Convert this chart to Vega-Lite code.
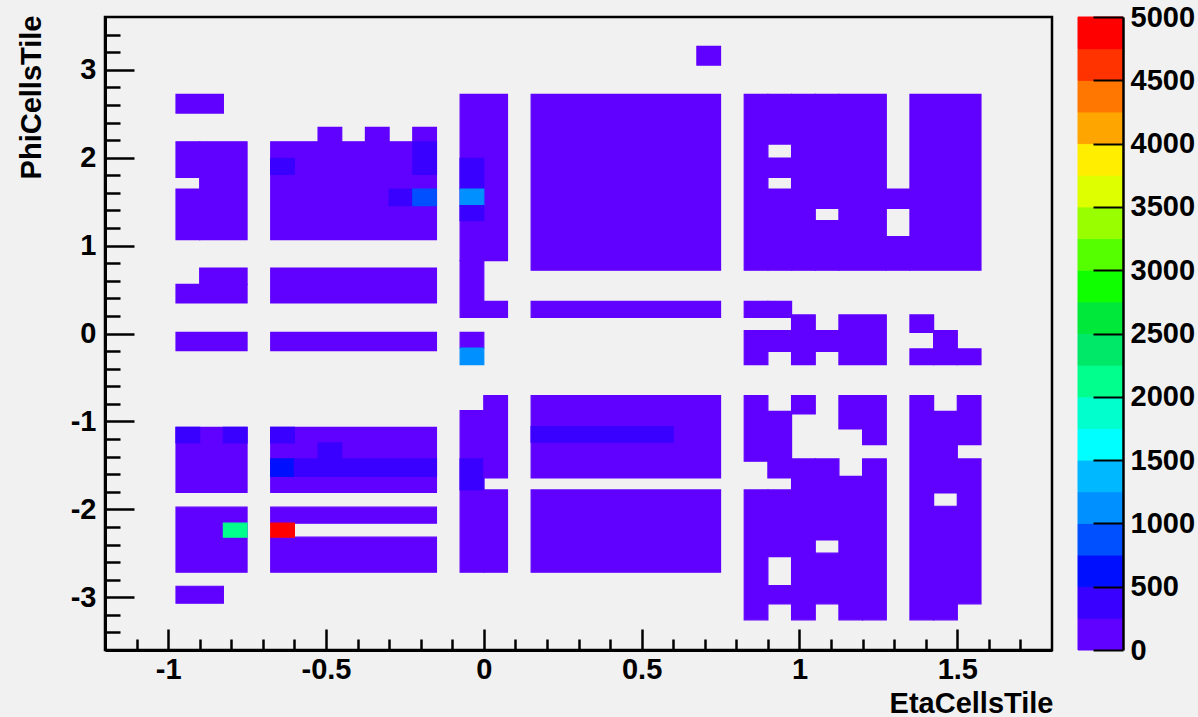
{
  "$schema": "https://vega.github.io/schema/vega-lite/v6.json",
  "autosize": {"type": "none"},
  "padding": {"left": 105, "top": 17, "right": 1093, "bottom": 700},
  "background": "#f1f1f1",
  "bounds": "flush",
  "spacing": 26,
  "config": {
    "view": {"stroke": "#000000", "strokeWidth": 2.5},
    "axis": {
      "grid": false,
      "domainColor": "#000000",
      "domainWidth": 3,
      "tickColor": "#000000",
      "tickWidth": 2.5,
      "labelFont": "Liberation Sans",
      "labelFontWeight": "bold",
      "labelFontSize": 29,
      "labelColor": "#000000",
      "labelFlush": false,
      "labelOverlap": false,
      "titleFont": "Liberation Sans",
      "titleFontWeight": "bold",
      "titleFontSize": 29,
      "titleColor": "#000000"
    }
  },
  "hconcat": [
    {
      "width": 947,
      "height": 633,
      "data": {
        "values": [
          {"eta1": -0.975, "eta2": -0.825, "phi1": 2.507, "phi2": 2.72, "count": 120},
          {"eta1": -0.9, "eta2": -0.75, "phi1": 1.067, "phi2": 2.181, "count": 120},
          {"eta1": -0.975, "eta2": -0.9, "phi1": 1.776, "phi2": 2.181, "count": 120},
          {"eta1": -0.975, "eta2": -0.9, "phi1": 1.067, "phi2": 1.643, "count": 120},
          {"eta1": -0.675, "eta2": -0.15, "phi1": 1.067, "phi2": 2.181, "count": 120},
          {"eta1": -0.525, "eta2": -0.45, "phi1": 2.181, "phi2": 2.344, "count": 120},
          {"eta1": -0.375, "eta2": -0.3, "phi1": 2.181, "phi2": 2.344, "count": 120},
          {"eta1": -0.225, "eta2": -0.15, "phi1": 2.181, "phi2": 2.344, "count": 120},
          {"eta1": -0.675, "eta2": -0.6, "phi1": 1.81, "phi2": 1.992, "count": 380},
          {"eta1": -0.225, "eta2": -0.15, "phi1": 1.81, "phi2": 2.181, "count": 380},
          {"eta1": -0.3, "eta2": -0.225, "phi1": 1.454, "phi2": 1.643, "count": 420},
          {"eta1": -0.225, "eta2": -0.15, "phi1": 1.454, "phi2": 1.643, "count": 900},
          {"eta1": -0.075, "eta2": 0.075, "phi1": 0.828, "phi2": 2.72, "count": 120},
          {"eta1": -0.075, "eta2": 0, "phi1": 0.184, "phi2": 0.828, "count": 120},
          {"eta1": 0, "eta2": 0.075, "phi1": 0.184, "phi2": 0.366, "count": 120},
          {"eta1": -0.075, "eta2": 0, "phi1": 1.643, "phi2": 1.992, "count": 380},
          {"eta1": -0.075, "eta2": 0, "phi1": 1.454, "phi2": 1.643, "count": 1150},
          {"eta1": -0.075, "eta2": 0, "phi1": 1.283, "phi2": 1.454, "count": 400},
          {"eta1": 0.15, "eta2": 0.75, "phi1": 0.72, "phi2": 2.72, "count": 120},
          {"eta1": 0.15, "eta2": 0.75, "phi1": 0.184, "phi2": 0.366, "count": 120},
          {"eta1": 0.675, "eta2": 0.75, "phi1": 3.053, "phi2": 3.266, "count": 120},
          {"eta1": -0.975, "eta2": -0.75, "phi1": 0.347, "phi2": 0.559, "count": 120},
          {"eta1": -0.9, "eta2": -0.75, "phi1": 0.559, "phi2": 0.745, "count": 120},
          {"eta1": -0.675, "eta2": -0.15, "phi1": 0.347, "phi2": 0.745, "count": 120},
          {"eta1": 0.825, "eta2": 0.9, "phi1": 0.72, "phi2": 2.72, "count": 120},
          {"eta1": 0.9, "eta2": 0.975, "phi1": 0.72, "phi2": 1.643, "count": 120},
          {"eta1": 0.9, "eta2": 0.975, "phi1": 1.776, "phi2": 1.996, "count": 120},
          {"eta1": 0.9, "eta2": 0.975, "phi1": 2.155, "phi2": 2.72, "count": 120},
          {"eta1": 0.975, "eta2": 1.05, "phi1": 0.72, "phi2": 2.72, "count": 120},
          {"eta1": 1.05, "eta2": 1.125, "phi1": 0.72, "phi2": 1.283, "count": 120},
          {"eta1": 1.05, "eta2": 1.125, "phi1": 1.423, "phi2": 2.72, "count": 120},
          {"eta1": 1.125, "eta2": 1.275, "phi1": 0.72, "phi2": 2.72, "count": 120},
          {"eta1": 1.275, "eta2": 1.35, "phi1": 0.72, "phi2": 1.101, "count": 120},
          {"eta1": 1.275, "eta2": 1.35, "phi1": 1.423, "phi2": 1.643, "count": 120},
          {"eta1": 1.35, "eta2": 1.575, "phi1": 0.72, "phi2": 2.72, "count": 120},
          {"eta1": 0.825, "eta2": 0.9, "phi1": 0.184, "phi2": 0.366, "count": 120},
          {"eta1": 0.825, "eta2": 0.9, "phi1": -0.353, "phi2": 0.032, "count": 120},
          {"eta1": 0.9, "eta2": 0.975, "phi1": 0.184, "phi2": 0.366, "count": 120},
          {"eta1": 0.9, "eta2": 0.975, "phi1": -0.203, "phi2": 0.032, "count": 120},
          {"eta1": 0.975, "eta2": 1.05, "phi1": -0.353, "phi2": 0.211, "count": 120},
          {"eta1": 1.05, "eta2": 1.125, "phi1": -0.203, "phi2": 0.032, "count": 120},
          {"eta1": 1.125, "eta2": 1.275, "phi1": -0.353, "phi2": 0.211, "count": 120},
          {"eta1": 1.35, "eta2": 1.425, "phi1": 0.013, "phi2": 0.211, "count": 120},
          {"eta1": 1.35, "eta2": 1.425, "phi1": -0.353, "phi2": -0.176, "count": 120},
          {"eta1": 1.425, "eta2": 1.5, "phi1": -0.353, "phi2": 0.032, "count": 120},
          {"eta1": 1.5, "eta2": 1.575, "phi1": -0.353, "phi2": -0.176, "count": 120},
          {"eta1": -0.975, "eta2": -0.75, "phi1": -0.195, "phi2": 0.013, "count": 120},
          {"eta1": -0.675, "eta2": -0.15, "phi1": -0.195, "phi2": 0.013, "count": 120},
          {"eta1": -0.075, "eta2": 0, "phi1": -0.165, "phi2": 0.013, "count": 120},
          {"eta1": -0.075, "eta2": 0, "phi1": -0.354, "phi2": -0.165, "count": 1150},
          {"eta1": -0.975, "eta2": -0.75, "phi1": -1.806, "phi2": -1.067, "count": 120},
          {"eta1": -0.975, "eta2": -0.9, "phi1": -1.245, "phi2": -1.067, "count": 380},
          {"eta1": -0.825, "eta2": -0.75, "phi1": -1.245, "phi2": -1.067, "count": 380},
          {"eta1": -0.675, "eta2": -0.15, "phi1": -1.806, "phi2": -1.067, "count": 120},
          {"eta1": -0.675, "eta2": -0.6, "phi1": -1.245, "phi2": -1.067, "count": 380},
          {"eta1": -0.525, "eta2": -0.45, "phi1": -1.427, "phi2": -1.245, "count": 380},
          {"eta1": -0.675, "eta2": -0.6, "phi1": -1.624, "phi2": -1.427, "count": 620},
          {"eta1": -0.6, "eta2": -0.15, "phi1": -1.624, "phi2": -1.427, "count": 380},
          {"eta1": -0.975, "eta2": -0.75, "phi1": -2.715, "phi2": -1.976, "count": 120},
          {"eta1": -0.825, "eta2": -0.75, "phi1": -2.317, "phi2": -2.158, "count": 2150},
          {"eta1": -0.675, "eta2": -0.15, "phi1": -2.158, "phi2": -1.976, "count": 120},
          {"eta1": -0.675, "eta2": -0.15, "phi1": -2.715, "phi2": -2.317, "count": 120},
          {"eta1": -0.675, "eta2": -0.6, "phi1": -2.317, "phi2": -2.158, "count": 4900},
          {"eta1": -0.975, "eta2": -0.825, "phi1": -3.068, "phi2": -2.875, "count": 120},
          {"eta1": -0.075, "eta2": 0, "phi1": -2.715, "phi2": -0.877, "count": 120},
          {"eta1": -0.075, "eta2": 0, "phi1": -1.779, "phi2": -1.427, "count": 380},
          {"eta1": 0, "eta2": 0.075, "phi1": -1.643, "phi2": -0.706, "count": 120},
          {"eta1": 0, "eta2": 0.075, "phi1": -2.715, "phi2": -1.779, "count": 120},
          {"eta1": 0.15, "eta2": 0.75, "phi1": -1.643, "phi2": -0.706, "count": 120},
          {"eta1": 0.15, "eta2": 0.6, "phi1": -1.237, "phi2": -1.059, "count": 380},
          {"eta1": 0.15, "eta2": 0.75, "phi1": -2.715, "phi2": -1.779, "count": 120},
          {"eta1": 0.825, "eta2": 0.9, "phi1": -1.453, "phi2": -0.706, "count": 120},
          {"eta1": 0.825, "eta2": 0.9, "phi1": -3.257, "phi2": -1.779, "count": 120},
          {"eta1": 0.9, "eta2": 0.975, "phi1": -1.643, "phi2": -0.885, "count": 120},
          {"eta1": 0.9, "eta2": 0.975, "phi1": -2.537, "phi2": -1.779, "count": 120},
          {"eta1": 0.9, "eta2": 0.975, "phi1": -3.075, "phi2": -2.867, "count": 120},
          {"eta1": 0.975, "eta2": 1.05, "phi1": -0.915, "phi2": -0.706, "count": 120},
          {"eta1": 0.975, "eta2": 1.05, "phi1": -3.257, "phi2": -1.427, "count": 120},
          {"eta1": 1.05, "eta2": 1.125, "phi1": -2.348, "phi2": -1.427, "count": 120},
          {"eta1": 1.05, "eta2": 1.125, "phi1": -3.075, "phi2": -2.499, "count": 120},
          {"eta1": 1.125, "eta2": 1.2, "phi1": -1.086, "phi2": -0.706, "count": 120},
          {"eta1": 1.125, "eta2": 1.2, "phi1": -3.257, "phi2": -1.624, "count": 120},
          {"eta1": 1.2, "eta2": 1.275, "phi1": -1.264, "phi2": -0.706, "count": 120},
          {"eta1": 1.2, "eta2": 1.275, "phi1": -3.257, "phi2": -1.427, "count": 120},
          {"eta1": 1.35, "eta2": 1.425, "phi1": -3.257, "phi2": -0.706, "count": 120},
          {"eta1": 1.425, "eta2": 1.5, "phi1": -1.813, "phi2": -0.885, "count": 120},
          {"eta1": 1.425, "eta2": 1.5, "phi1": -3.257, "phi2": -1.965, "count": 120},
          {"eta1": 1.5, "eta2": 1.575, "phi1": -1.264, "phi2": -0.706, "count": 120},
          {"eta1": 1.5, "eta2": 1.575, "phi1": -3.075, "phi2": -1.427, "count": 120}
        ]
      },
      "mark": {"type": "rect", "strokeWidth": 1.2},
      "encoding": {
        "x": {
          "field": "eta1",
          "type": "quantitative",
          "scale": {"domain": [-1.2, 1.8], "nice": false, "zero": false},
          "axis": {
            "zindex": 1,
            "title": "EtaCellsTile",
            "values": [-1.1, -1, -0.9, -0.8, -0.7, -0.6, -0.5, -0.4, -0.3, -0.2, -0.1, 0, 0.1, 0.2, 0.3, 0.4, 0.5, 0.6, 0.7, 0.8, 0.9, 1, 1.1, 1.2, 1.3, 1.4, 1.5, 1.6, 1.7],
            "tickSize": {"condition": {"test": "abs(datum.value*2 - round(datum.value*2)) < 0.001", "value": -21}, "value": -11},
            "labelExpr": "abs(datum.value*2 - round(datum.value*2)) < 0.001 ? (datum.value < -0.001 ? '-' : '') + format(abs(datum.value), '~g') : ''",
            "labelPadding": 26,
            "labelBaseline": "top",
            "titleX": 948,
            "titleY": 62,
            "titleAlign": "right",
            "titleAnchor": "end",
            "titleBaseline": "alphabetic"
          }
        },
        "x2": {"field": "eta2"},
        "y": {
          "field": "phi1",
          "type": "quantitative",
          "scale": {"domain": [-3.6, 3.6], "nice": false, "zero": false},
          "axis": {
            "zindex": 1,
            "title": "PhiCellsTile",
            "values": [-3.4, -3.2, -3, -2.8, -2.6, -2.4, -2.2, -2, -1.8, -1.6, -1.4, -1.2, -1, -0.8, -0.6, -0.4, -0.2, 0, 0.2, 0.4, 0.6, 0.8, 1, 1.2, 1.4, 1.6, 1.8, 2, 2.2, 2.4, 2.6, 2.8, 3, 3.2, 3.4],
            "tickSize": {"condition": {"test": "abs(datum.value - round(datum.value)) < 0.001", "value": -29}, "value": -15},
            "labelExpr": "abs(datum.value - round(datum.value)) < 0.001 ? (datum.value < -0.001 ? '-' : '') + format(abs(datum.value), '~g') : ''",
            "labelPadding": 38,
            "labelBaseline": "middle",
            "titleAngle": 270,
            "titleX": -65,
            "titleY": -2,
            "titleAlign": "right",
            "titleAnchor": "end",
            "titleBaseline": "alphabetic"
          }
        },
        "y2": {"field": "phi2"},
        "color": {
          "field": "count",
          "type": "quantitative",
          "scale": {
            "type": "quantize",
            "domain": [0, 5000],
            "nice": false,
            "range": ["#6000ff", "#3a00ff", "#0010ff", "#0050ff", "#0090ff", "#00b8ff", "#00ffff", "#00ffcc", "#00ff8c", "#00e868", "#00e83a", "#10ff00", "#55ff00", "#99ff00", "#ddff00", "#ffee00", "#ffa500", "#ff7700", "#ff3300", "#ff0000"]
          },
          "legend": null
        },
        "stroke": {
          "field": "count",
          "type": "quantitative",
          "scale": {
            "type": "quantize",
            "domain": [0, 5000],
            "nice": false,
            "range": ["#6000ff", "#3a00ff", "#0010ff", "#0050ff", "#0090ff", "#00b8ff", "#00ffff", "#00ffcc", "#00ff8c", "#00e868", "#00e83a", "#10ff00", "#55ff00", "#99ff00", "#ddff00", "#ffee00", "#ffa500", "#ff7700", "#ff3300", "#ff0000"]
          },
          "legend": null
        }
      }
    },
    {
      "width": 45,
      "height": 633,
      "view": {"stroke": null},
      "data": {
        "values": [
          {"lo": 0, "hi": 250, "col": "#6000ff"},
          {"lo": 250, "hi": 500, "col": "#3a00ff"},
          {"lo": 500, "hi": 750, "col": "#0010ff"},
          {"lo": 750, "hi": 1000, "col": "#0050ff"},
          {"lo": 1000, "hi": 1250, "col": "#0090ff"},
          {"lo": 1250, "hi": 1500, "col": "#00b8ff"},
          {"lo": 1500, "hi": 1750, "col": "#00ffff"},
          {"lo": 1750, "hi": 2000, "col": "#00ffcc"},
          {"lo": 2000, "hi": 2250, "col": "#00ff8c"},
          {"lo": 2250, "hi": 2500, "col": "#00e868"},
          {"lo": 2500, "hi": 2750, "col": "#00e83a"},
          {"lo": 2750, "hi": 3000, "col": "#10ff00"},
          {"lo": 3000, "hi": 3250, "col": "#55ff00"},
          {"lo": 3250, "hi": 3500, "col": "#99ff00"},
          {"lo": 3500, "hi": 3750, "col": "#ddff00"},
          {"lo": 3750, "hi": 4000, "col": "#ffee00"},
          {"lo": 4000, "hi": 4250, "col": "#ffa500"},
          {"lo": 4250, "hi": 4500, "col": "#ff7700"},
          {"lo": 4500, "hi": 4750, "col": "#ff3300"},
          {"lo": 4750, "hi": 5000, "col": "#ff0000"}
        ]
      },
      "mark": {"type": "rect", "strokeWidth": 1, "stroke": {"expr": "datum.col"}},
      "encoding": {
        "y": {
          "field": "lo",
          "type": "quantitative",
          "scale": {"domain": [0, 5000], "nice": false, "zero": false},
          "axis": {
            "zindex": 2,
            "orient": "right",
            "title": null,
            "values": [0, 500, 1000, 1500, 2000, 2500, 3000, 3500, 4000, 4500, 5000],
            "format": "d",
            "tickSize": -30,
            "tickWidth": 2,
            "domainWidth": 2.5,
            "labelPadding": 37,
            "labelBaseline": "middle",
            "labelAlign": "left"
          }
        },
        "y2": {"field": "hi"},
        "color": {"field": "col", "type": "nominal", "scale": null, "legend": null}
      }
    }
  ]
}
